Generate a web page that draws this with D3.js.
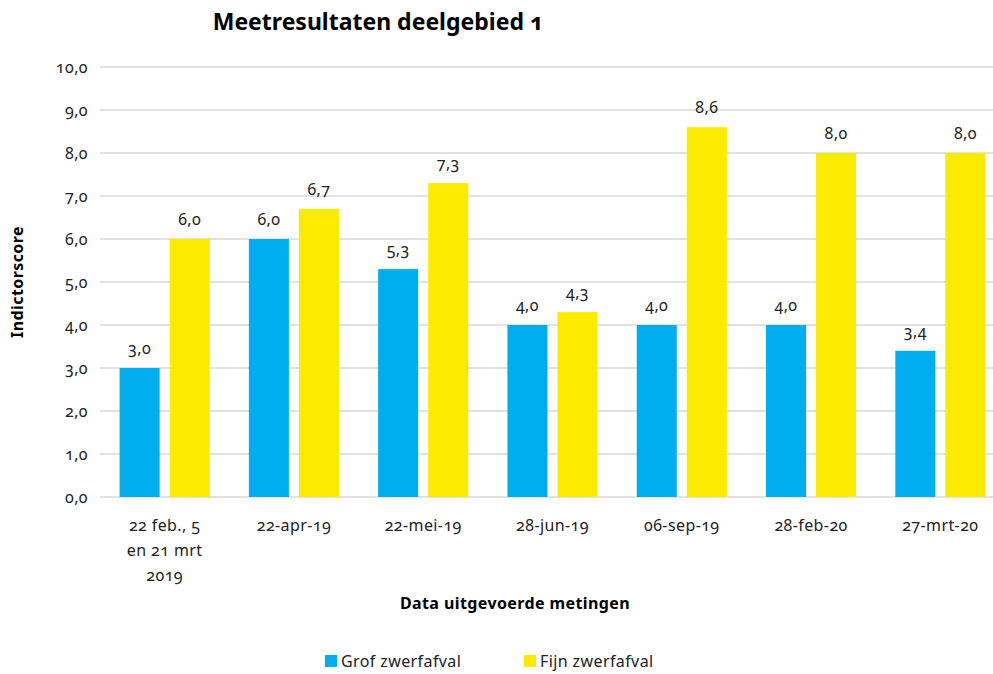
<!DOCTYPE html>
<html>
<head>
<meta charset="utf-8">
<style>
body { margin: 0; background: #fff; }
svg { display: block; font-family: "Noto Sans", sans-serif; font-variant-numeric: oldstyle-nums; }
.grid line { stroke: #d9d9d9; stroke-width: 1.5; }
.tick text { font-size: 16px; fill: #222; letter-spacing: 0.4px; }
.val { font-size: 16px; fill: #222; text-anchor: middle; letter-spacing: 0.4px; }
.heading { font-size: 23px; font-weight: bold; }
.axTitle { font-size: 16px; font-weight: bold; letter-spacing: 0.4px; }
</style>
</head>
<body>
<svg id="svg"></svg>
<script src="https://cdnjs.cloudflare.com/ajax/libs/d3/7.8.5/d3.min.js"></script>
<script>
// data
var categories = [["22 feb., 5", "en 21 mrt", "2019"], ["22-apr-19"], ["22-mei-19"], ["28-jun-19"], ["06-sep-19"], ["28-feb-20"], ["27-mrt-20"]]
var grof = [3.0, 6.0, 5.3, 4.0, 4.0, 4.0, 3.4]
var fijn = [6.0, 6.7, 7.3, 4.3, 8.6, 8.0, 8.0]
var seriesNames = ["Grof zwerfafval", "Fijn zwerfafval"]
var colors = ["#00aeef", "#faeb00"]
var yTicks = [0, 1, 2, 3, 4, 5, 6, 7, 8, 9, 10]

var width = 993, height = 674
var pLeft = 100, pRight = 1005, pTop = 67, pBottom = 497

var fmt = function(v) { return v.toFixed(1).replace(".", ",") }

var chart = d3.select("svg")
    .attr("width", width)
    .attr("height", height)

var xScale = d3.scaleBand()
    .domain(d3.range(categories.length))
    .range([pLeft, pRight])
    .paddingInner(0.303)
    .paddingOuter(0.1515)

var xSub = d3.scaleBand()
    .domain([0, 1])
    .range([0, xScale.bandwidth()])
    .paddingInner(0.2)

var yScale = d3.scaleLinear()
    .domain([0, 10])
    .range([pBottom, pTop])

// gridlines
chart.append("g")
    .attr("class", "grid")
    .selectAll("line")
    .data(yTicks).enter()
    .append("line")
    .attr("x1", pLeft)
    .attr("x2", width)
    .attr("y1", d => yScale(d))
    .attr("y2", d => yScale(d))

// y axis
var yAxis = d3.axisLeft(yScale)
    .tickValues(yTicks)
    .tickSize(0)
    .tickPadding(12)
    .tickFormat(fmt)
var yg = chart.append("g")
    .attr("transform", "translate(" + pLeft + ",0)")
    .call(yAxis)
yg.select(".domain").remove()
yg.attr("font-size", null).attr("font-family", null)

// bars
var series = [grof, fijn]
series.forEach(function(vals, s) {
    chart.append("g").selectAll("rect")
        .data(vals).enter()
        .append("rect")
        .attr("x", (d, i) => xScale(i) + xSub(s))
        .attr("width", xSub.bandwidth())
        .attr("y", d => yScale(d))
        .attr("height", d => yScale(0) - yScale(d))
        .style("fill", colors[s])
    chart.append("g").selectAll("text")
        .data(vals).enter()
        .append("text")
        .attr("class", "val")
        .attr("x", (d, i) => xScale(i) + xSub(s) + xSub.bandwidth() / 2)
        .attr("y", d => yScale(d) - 14)
        .text(fmt)
})

// x labels
var xl = chart.append("g").selectAll("text")
    .data(categories).enter()
    .append("text")
    .attr("class", "val")
    .attr("x", (d, i) => xScale(i) + xScale.bandwidth() / 2)
    .attr("y", 531)
xl.selectAll("tspan")
    .data(d => d).enter()
    .append("tspan")
    .attr("x", function() { return d3.select(this.parentNode).attr("x") })
    .attr("dy", (d, i) => i == 0 ? 0 : 25)
    .text(d => d)

// titles
chart.append("text")
    .attr("class", "heading")
    .attr("x", 378)
    .attr("y", 30)
    .attr("text-anchor", "middle")
    .text("Meetresultaten deelgebied 1")

chart.append("text")
    .attr("class", "axTitle")
    .attr("transform", "translate(23," + ((pTop + pBottom) / 2) + ") rotate(-90)")
    .attr("text-anchor", "middle")
    .text("Indictorscore")

chart.append("text")
    .attr("class", "axTitle")
    .attr("x", 515)
    .attr("y", 609)
    .attr("text-anchor", "middle")
    .text("Data uitgevoerde metingen")

// legend
var legX = [325, 524]
var leg = chart.append("g").selectAll("g")
    .data(seriesNames).enter()
    .append("g")
    .attr("transform", (d, i) => "translate(" + legX[i] + ",655)")
leg.append("rect")
    .attr("width", 12)
    .attr("height", 12)
    .style("fill", (d, i) => colors[i])
leg.append("text")
    .attr("x", 16)
    .attr("y", 12)
    .style("font-size", "16px")
    .style("letter-spacing", "0.4px")
    .style("fill", "#222")
    .text(d => d)
</script>
</body>
</html>
